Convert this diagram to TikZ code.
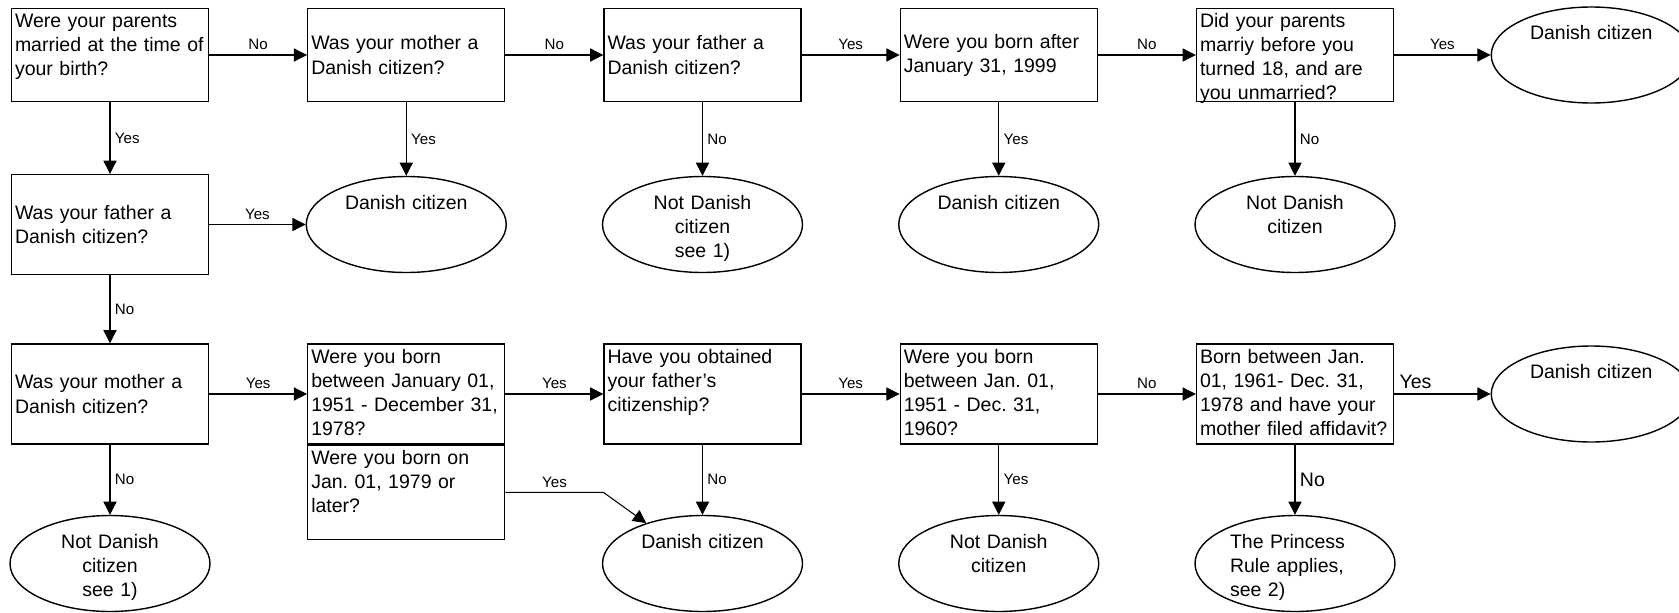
\documentclass[tikz,border=0pt]{standalone}
\usepackage{fontspec}
\setmainfont{Liberation Sans}
\usetikzlibrary{arrows.meta,positioning,shapes.geometric}
\frenchspacing

\begin{document}
\begin{tikzpicture}[->,>={Triangle[length=7.5pt,width=7.5pt]},auto,line width=0.6pt,
    on grid,node distance=3.39cm and 5.925cm,font=\fontsize{11.1}{13.7}\selectfont,
    question node/.style={draw,rectangle,line width=0.8pt,minimum height=2cm,text width=3.8cm,inner xsep=2pt,inner ysep=2pt,align=left},
    top text/.style={text height=0.3cm,text depth=#1},top text/.default=1.54cm,
    answer node/.style={draw,ellipse,line width=0.8pt,minimum width=4cm,minimum height=1.92cm,inner sep=0pt,text width=2.6cm,align=center,text height=0.35cm,text depth=0.97cm}]

  \useasboundingbox (0,0) rectangle (33.58,-12.24);

  % first row
  \node[question node,minimum height=1.85cm,top text=1.39cm] (married) at (2.2,-1.1) {Were your parents\\married at the time of\\your birth?};
  \node[question node,minimum height=1.85cm] (mother) [right=of married] {Was your mother a\\Danish citizen?};
  \node[question node,minimum height=1.85cm] (father) [right=of mother] {Was your father a\\Danish citizen?};
  \node[question node,minimum height=1.85cm] (after) [right=of father] {Were you born after\\January 31, 1999};
  \node[question node,minimum height=1.85cm,top text=1.39cm] (wed) [right=of after] {Did your parents\\marriy before you\\turned 18, and are\\you unmarried?};
  \node[answer node] (dk1) [right=of wed] {Danish citizen};

  % second row
  \node[question node] (father2) [below=of married] {Was your father a\\Danish citizen?};
  \node[answer node] (dk2) [below=of mother] {Danish citizen};
  \node[answer node] (notdk1) [below=of father] {Not Danish\\citizen\\see 1)};
  \node[answer node] (dk3) [below=of after] {Danish citizen};
  \node[answer node] (notdk2) [below=of wed] {Not Danish\\citizen};

  % third row
  \node[question node] (mother2) [below=of father2] {Was your mother a\\Danish citizen?};
  \node[question node,top text] (born51) [right=of mother2] {Were you born\\between January 01,\\1951 - December 31,\\1978?};
  \node[question node,minimum height=1.88cm,top text=1.42cm,anchor=north] (born79) at (born51.south) {Were you born on\\Jan. 01, 1979 or\\later?};
  \node[question node,top text] (obtained) [right=of born51] {Have you obtained\\your father's\\citizenship?};
  \node[question node,top text] (born60) [right=of obtained] {Were you born\\between Jan. 01,\\1951 - Dec. 31,\\1960?};
  \node[question node,top text] (affidavit) [right=of born60] {Born between Jan.\\01, 1961- Dec. 31,\\1978 and have your\\mother filed affidavit?};
  \node[answer node] (dk4) [right=of affidavit] {Danish citizen};

  % fourth row
  \node[answer node] (notdk3) [below=of mother2] {Not Danish\\citizen\\see 1)};
  \node[answer node] (dk5) [below=of obtained] {Danish citizen};
  \node[answer node] (notdk4) [below=of born60] {Not Danish\\citizen};
  \node[answer node,align=left] (princess) [below=of affidavit] {The Princess\\Rule applies,\\see 2)};

  \path[every node/.style={font=\fontsize{8.6}{10}\selectfont,inner sep=2.5pt}]
    (married) edge node {No} (mother)
              edge node {Yes} (father2)
    (mother) edge node {No} (father)
             edge node {Yes} (dk2)
    (father) edge node {Yes} (after)
             edge node {No} (notdk1)
    (after) edge node {No} (wed)
            edge node {Yes} (dk3)
    (wed) edge node {Yes} (dk1)
          edge node {No} (notdk2)
    (father2) edge node {Yes} (dk2)
              edge node {No} (mother2)
    (mother2) edge node {Yes} (born51)
              edge node {No} (notdk3)
    (born51) edge node {Yes} (obtained)
    (obtained) edge node {Yes} (born60)
               edge node {No} (dk5)
    (born60) edge node {No} (affidavit)
             edge node {Yes} (notdk4)
    (affidavit) edge node[pos=0.22,font=\fontsize{11.1}{13.7}\selectfont] {Yes} (dk4)
                edge node[font=\fontsize{11.1}{13.7}\selectfont] {No} (princess);
  \draw[every node/.style={font=\fontsize{8.6}{10}\selectfont,inner sep=2.5pt}]
    (born79.east) -- node {Yes} ++(1.96,0) -- (dk5);
\end{tikzpicture}
\end{document}
